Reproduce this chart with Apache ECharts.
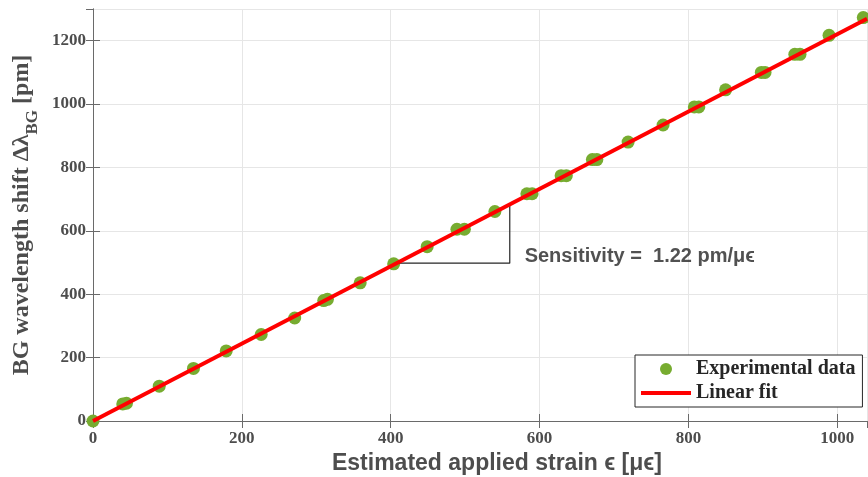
<!DOCTYPE html>
<html>
<head>
<meta charset="utf-8">
<script src="https://cdn.jsdelivr.net/npm/echarts@6/dist/echarts.min.js"></script>
<style>
html,body{margin:0;padding:0;background:#fff;}
#chart{width:868px;height:477px;}
</style>
</head>
<body>
<div id="chart"></div>
<script>
// Experimental data (estimated applied strain [µϵ] vs BG wavelength shift [pm])
var strainX = [0, 40, 45, 89, 135, 179, 226, 271, 310, 315, 359, 404, 449, 489, 499, 540, 583, 590, 629, 636, 671, 677, 719, 766, 808, 814, 850, 898, 903, 943, 950, 989, 1035];
var shiftY  = [0, 54, 56, 110, 166, 221, 273, 325, 380, 384, 436, 496, 550, 605, 605, 661, 717, 717, 774, 774, 825, 825, 880, 934, 991, 991, 1045, 1100, 1100, 1157, 1157, 1217, 1273];
// Linear fit end points
var fitX = [0, 1040];
var fitY = [0, 1269];
// Sensitivity triangle vertices
var triX = [408, 560, 560];
var triY = [498, 498, 683];
// Annotation anchor
var noteX = [580];
var noteY = [518];
var noteText = 'Sensitivity =  1.22 pm/\u03bc\u03f5';
// Axis ticks
var xTicks = [0, 200, 400, 600, 800, 1000];
var yTicks = [0, 200, 400, 600, 800, 1000, 1200];

var axisColor = '#6a6a6a';
var labelColor = '#4d4d4d';
var serif = 'Liberation Serif';
var sans = 'Liberation Sans';

function pairs(xs, ys){ return xs.map(function(x,i){ return [x, ys[i]]; }); }

var chart = echarts.init(document.getElementById('chart'), null, {renderer:'canvas'});
var baseAxis = {
  type: 'value', min: 0, interval: 200,
  axisLine: {show: true, lineStyle: {color: axisColor, width: 1}},
  axisTick: {show: true, inside: true, length: 7, lineStyle: {color: axisColor}},
  splitLine: {show: false}
};
chart.setOption({
  animation: false,
  backgroundColor: '#ffffff',
  grid: {left: 93, right: 1, top: 9, bottom: 56, containLabel: false, outerBoundsMode: 'none'},
  xAxis: [
    Object.assign({}, baseAxis, {
      max: 1040, position: 'bottom',
      axisLabel: {show: true, margin: 9, color: labelColor, fontFamily: serif, fontWeight: 'bold', fontSize: 17, showMaxLabel: false,
        formatter: function(v){ return xTicks.indexOf(v) >= 0 ? String(v) : ''; }},
      splitLine: {show: true, lineStyle: {color: '#e6e6e6', width: 1}},
      name: 'Estimated applied strain \u03f5 [\u03bc\u03f5]',
      nameLocation: 'middle', nameGap: 24,
      nameTextStyle: {color: labelColor, fontFamily: sans, fontWeight: 'bold', fontSize: 23, padding: [0,0,0,34]}
    }),
    Object.assign({}, baseAxis, {max: 1040, position: 'top', axisLabel: {show: false}})
  ],
  yAxis: [
    Object.assign({}, baseAxis, {
      max: 1300, position: 'left',
      axisLabel: {show: true, margin: 7, color: labelColor, fontFamily: serif, fontWeight: 'bold', fontSize: 17, showMaxLabel: false,
        formatter: function(v){ return yTicks.indexOf(v) >= 0 ? String(v) : ''; }},
      splitLine: {show: true, lineStyle: {color: '#e6e6e6', width: 1}},
      name: '{a|BG wavelength shift \u0394\u03bb}{s|BG}{a| [pm]}',
      nameLocation: 'middle', nameGap: 49,
      nameTextStyle: {
        color: labelColor,
        rich: {
          a: {color: labelColor, fontFamily: serif, fontWeight: 'bold', fontSize: 24, lineHeight: 30, verticalAlign: 'middle'},
          s: {color: labelColor, fontFamily: serif, fontWeight: 'bold', fontSize: 17, lineHeight: 30, verticalAlign: 'bottom', padding: [0,0,-4,0]}
        }
      }
    }),
    Object.assign({}, baseAxis, {max: 1300, position: 'right', axisLabel: {show: false}})
  ],
  legend: {
    show: true, orient: 'vertical', left: 635, top: 355,
    backgroundColor: '#ffffff', borderColor: '#262626', borderWidth: 1, borderRadius: 0,
    padding: [4, 7, 4, 6], itemWidth: 50, itemHeight: 12, itemGap: 4,
    textStyle: {color: '#262626', fontFamily: serif, fontWeight: 'bold', fontSize: 20},
    data: [
      {name: 'Experimental data', icon: 'circle', itemStyle: {color: '#77ac30'}},
      {name: 'Linear fit', icon: 'path://M0,0H50V4H0Z', itemStyle: {color: '#ff0000'}}
    ]
  },
  series: [
    {
      name: 'Experimental data', type: 'scatter', symbol: 'circle', symbolSize: 13,
      itemStyle: {color: '#77ac30', opacity: 1},
      data: pairs(strainX, shiftY), z: 2
    },
    {
      name: 'Linear fit', type: 'line', symbol: 'none', showSymbol: false,
      lineStyle: {color: '#ff0000', width: 4},
      itemStyle: {color: '#ff0000'},
      data: pairs(fitX, fitY), z: 4
    },
    {
      name: 'triangle', type: 'line', symbol: 'none', showSymbol: false,
      lineStyle: {color: '#262626', width: 1.2},
      data: pairs(triX, triY), z: 3
    },
    {
      name: 'note', type: 'scatter', symbolSize: 0,
      data: pairs(noteX, noteY),
      label: {show: true, position: 'right', distance: 0, formatter: noteText,
        color: '#262626', fontFamily: sans, fontWeight: 'bold', fontSize: 20},
      silent: true, z: 5
    }
  ]
});
</script>
</body>
</html>
